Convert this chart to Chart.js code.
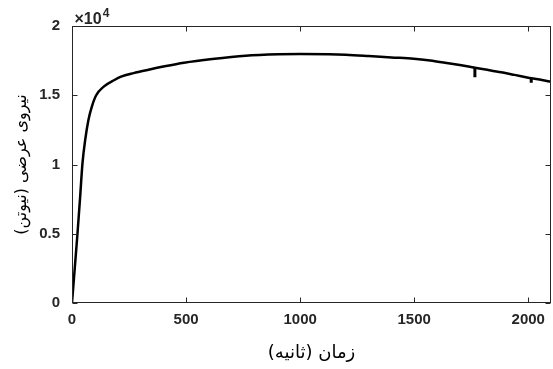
<!DOCTYPE html>
<html>
<head>
<meta charset="utf-8">
<script src="https://cdn.jsdelivr.net/npm/chart.js@4/dist/chart.umd.min.js"></script>
<style>
  body { margin: 0; background: #fff; }
  canvas { display: block; }
</style>
</head>
<body>
<canvas id="forceChart" width="553" height="369"></canvas>
<script>
// time in seconds, lateral force in newtons
const time = [0, 12, 24, 35, 46, 58, 72, 87, 106, 139, 186, 215, 270, 331, 400, 491,
  615, 761, 906, 1000, 1125, 1200, 1300, 1400, 1498, 1570, 1635, 1700, 1766,
  1820, 1882, 1940, 2000, 2013, 2060, 2100];
const force = [0, 2500, 5000, 7500, 10100, 11800, 13220, 14180, 15000, 15620, 16100, 16340, 16600, 16830, 17070, 17350,
  17620, 17860, 17960, 17980, 17960, 17920, 17830, 17730, 17640, 17510, 17350, 17180, 16990,
  16840, 16660, 16470, 16270, 16230, 16100, 15970];

// short downward glitches in the signal
const spikeTime = [1766, 2013];
const spikeTop = [16990, 16230];
const spikeLow = [16300, 15910];

const xTicks = [0, 500, 1000, 1500, 2000];
const yTicks = [0, 5000, 10000, 15000, 20000];

const axisColor = '#262626';

const spikePoints = [];
spikeTime.forEach((t, i) => {
  spikePoints.push({ x: t, y: spikeTop[i] }, { x: t, y: spikeLow[i] }, { x: t, y: null });
});

// matlab style box with inward tick marks + the x10^4 multiplier
const boxPlugin = {
  id: 'box',
  afterDraw(chart) {
    const ctx = chart.ctx;
    const a = chart.chartArea;
    const xs = chart.scales.x, ys = chart.scales.y;
    const L = Math.round(a.left) + 0.5, R = Math.round(a.right) - 0.5;
    const T = Math.round(a.top) + 0.5, B = Math.round(a.bottom) - 0.5;
    ctx.save();
    ctx.strokeStyle = axisColor;
    ctx.lineWidth = 1;
    ctx.strokeRect(L, T, R - L, B - T);
    ctx.beginPath();
    xs.ticks.forEach(t => {
      const px = Math.round(xs.getPixelForValue(t.value)) + 0.5;
      ctx.moveTo(px, B); ctx.lineTo(px, B - 5);
      ctx.moveTo(px, T); ctx.lineTo(px, T + 5);
    });
    ys.ticks.forEach(t => {
      const py = Math.round(ys.getPixelForValue(t.value)) + 0.5;
      ctx.moveTo(L, py); ctx.lineTo(L + 5, py);
      ctx.moveTo(R, py); ctx.lineTo(R - 5, py);
    });
    ctx.stroke();

    ctx.fillStyle = axisColor;
    ctx.textBaseline = 'alphabetic';
    ctx.textAlign = 'left';
    ctx.font = 'bold 16px "Liberation Sans", Arial, sans-serif';
    ctx.fillText('\u00d710', L + 2, T - 3);
    const w = ctx.measureText('\u00d710').width;
    ctx.font = 'bold 12px "Liberation Sans", Arial, sans-serif';
    ctx.fillText('4', L + 2 + w + 1, T - 10);
    ctx.restore();
  }
};

new Chart(document.getElementById('forceChart'), {
  type: 'line',
  data: {
    datasets: [{
      data: time.map((t, i) => ({ x: t, y: force[i] })),
      borderColor: '#000',
      borderWidth: 2.5,
      pointRadius: 0,
      fill: false,
      cubicInterpolationMode: 'monotone'
    }, {
      data: spikePoints,
      borderColor: '#000',
      borderWidth: 3,
      pointRadius: 0,
      fill: false,
      spanGaps: false,
      tension: 0
    }]
  },
  options: {
    responsive: false,
    animation: false,
    devicePixelRatio: 1,
    layout: { padding: { top: 26, right: 1, left: 0, bottom: 0 } },
    plugins: { legend: { display: false }, tooltip: { enabled: false } },
    scales: {
      x: {
        type: 'linear',
        min: 0,
        max: 2100,
        afterBuildTicks: s => { s.ticks = xTicks.map(v => ({ value: v })); },
        afterFit: s => { s.height = 66; },
        grid: { display: false, drawTicks: false },
        border: { display: false },
        ticks: {
          color: axisColor,
          padding: 8,
          maxRotation: 0,
          callback: v => String(v),
          font: { family: '"Liberation Sans", Arial, sans-serif', size: 15, weight: 'bold' }
        },
        title: {
          display: true,
          text: 'زمان (ثانیه)',
          color: '#000',
          padding: { top: 0, bottom: 5 },
          font: { family: '"DejaVu Sans", sans-serif', size: 18 }
        }
      },
      y: {
        min: 0,
        max: 20000,
        afterBuildTicks: s => { s.ticks = yTicks.map(v => ({ value: v })); },
        afterFit: s => { s.width = 72; },
        grid: { display: false, drawTicks: false },
        border: { display: false },
        ticks: {
          color: axisColor,
          padding: 12,
          callback: v => String(v / 10000),
          font: { family: '"Liberation Sans", Arial, sans-serif', size: 15, weight: 'bold' }
        },
        title: {
          display: true,
          text: 'نیروی عرضی (نیوتن)',
          color: '#000',
          padding: { top: 12, bottom: 0 },
          font: { family: '"DejaVu Sans", sans-serif', size: 16 }
        }
      }
    }
  },
  plugins: [boxPlugin]
});
</script>
</body>
</html>
